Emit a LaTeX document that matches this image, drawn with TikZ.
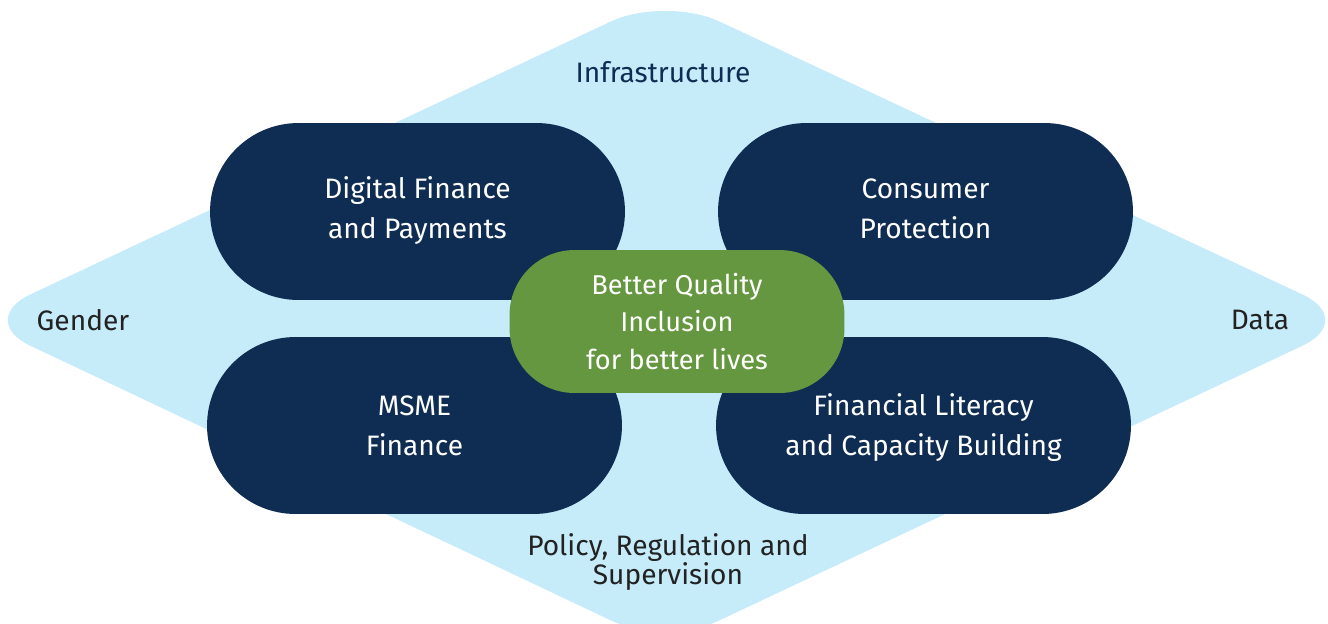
\documentclass[tikz,border=0pt]{standalone}
\usepackage{fontspec}
\setmainfont{Fira Sans}
\usepackage{xcolor}
\usepackage{tikz}
\usetikzlibrary{calc, positioning, shapes.geometric}
\definecolor{skyback}{HTML}{C6EBF9}
\definecolor{navyblock}{HTML}{0F2D52}
\definecolor{leafgreen}{HTML}{64973F}
\definecolor{darktext}{HTML}{222222}
\tikzset{
    pillar/.style={rectangle, fill=navyblock, text=white, align=center, minimum width=8.3cm, minimum height=3.54cm, rounded corners=1.77cm, text depth=0.3em, font=\fontsize{16}{22.8}\selectfont},
    core/.style={rectangle, fill=leafgreen, text=white, align=center, minimum width=6.7cm, minimum height=2.86cm, rounded corners=1.3cm, font=\fontsize{15.5}{21.2}\selectfont},
    enabler/.style={align=center, text=darktext, font=\fontsize{16}{16.5}\selectfont}
}

\begin{document}
\begin{tikzpicture}[x=0.02cm, y=-0.02cm]
    % Canvas
    \useasboundingbox (0,0) rectangle (1328,623);

    % Enabler diamond
    \fill[skyback, rounded corners=1.2cm] (-24,320) -- (665,-4) -- (1357,320) -- (665,646) -- cycle;

    % Pillars
    \node[pillar, text depth=0.45em] (digital) at (417.5,211.5) {Digital Finance\\and Payments};
    \node[pillar] (consumer) at (925.5,211.5) {Consumer\\Protection};
    \node[pillar, text depth=0pt] (msme) at (414.5,425.5) {MSME\\Finance};
    \node[pillar, text depth=0.15em] (literacy) at (923.5,425.5) {Financial Literacy\\and Capacity Building};

    % Goal
    \node[core] (goal) at (677,321.5) {Better Quality\\Inclusion\\for better lives};

    % Enabler labels
    \node[enabler, text=navyblock] (infra) at (663,72) {Infrastructure};
    \node[enabler] (gender) at (83,320) {Gender};
    \node[enabler] (data) at (1260,320) {Data};
    \node[enabler] (policy) at (668,562) {Policy, Regulation and\\Supervision};
\end{tikzpicture}
\end{document}
